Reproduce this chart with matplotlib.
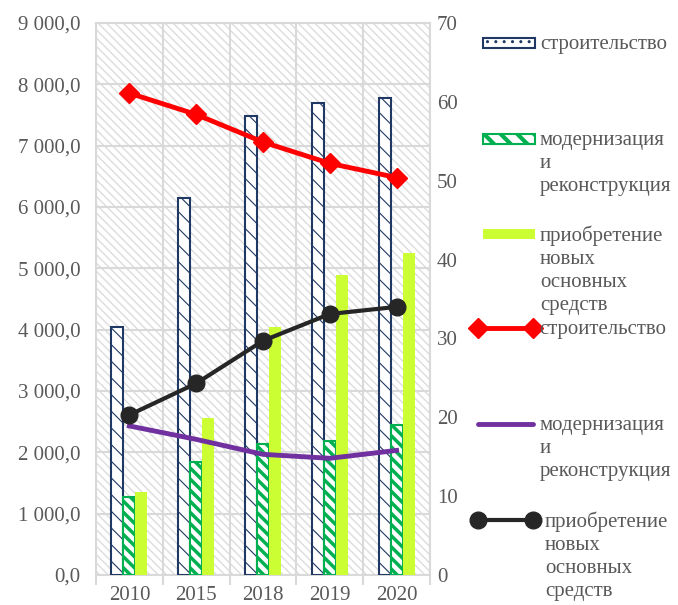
import numpy as np
import matplotlib
matplotlib.use('Agg')
import matplotlib.pyplot as plt
from matplotlib.patches import Rectangle
from matplotlib.lines import Line2D

years = ['2010', '2015', '2018', '2019', '2020']

# bars, left axis
bar_build = [4050, 6150, 7480, 7700, 7780]
bar_modern = [1270, 1840, 2140, 2180, 2440]
bar_new = [1360, 2560, 4040, 4890, 5250]

# lines, right axis
line_build = [61.1, 58.4, 54.9, 52.2, 50.4]
line_modern = [18.9, 17.2, 15.3, 14.8, 15.8]
line_new = [20.3, 24.3, 29.7, 33.1, 34.0]

lbl_build = 'строительство'
lbl_modern = 'модернизация\nи\nреконструкция'
lbl_new = 'приобретение\nновых\nосновных\nсредств'

plt.rcParams['font.family'] = ['Liberation Serif', 'DejaVu Serif']
txt = '#595959'
grid = '#d9d9d9'
navy = '#1f3864'
green = '#00b050'
lime = '#ccff33'
FS = 15


def hatch_lw(artists, lw):
    for a in artists:
        if hasattr(a, 'set_hatch_linewidth'):
            a.set_hatch_linewidth(lw)


plt.rcParams['hatch.linewidth'] = 1.0
fig = plt.figure(figsize=(6.78, 6.05), dpi=100)
ax = fig.add_axes([96 / 678, 30 / 605, 334 / 678, 552 / 605])
x = np.arange(len(years))
w = 0.18

# hatched plot area background
bg = Rectangle((0, 0), 1, 1, transform=ax.transAxes, facecolor='white',
               edgecolor='#dcdcdc', hatch='\\\\\\\\', lw=0, zorder=0)
ax.add_patch(bg)

b1 = ax.bar(x - w, bar_build, w, color='white', edgecolor=navy, hatch='\\\\',
            lw=1.5, zorder=3)
b2 = ax.bar(x, bar_modern, w, color='white', edgecolor=green, hatch='\\\\\\',
            lw=1.5, zorder=3)
ax.bar(x + w, bar_new, w, color=lime, edgecolor='none', zorder=3)
hatch_lw(b1, 0.8)
hatch_lw(b2, 2.5)

ax.set_xlim(-0.5, 4.5)
ax.set_ylim(0, 9000)
ax.set_yticks(np.arange(0, 9001, 1000))
ax.set_yticklabels([f'{v:,.1f}'.replace(',', ' ').replace('.', ',') for v in range(0, 9001, 1000)])
ax.set_xticks(np.arange(-0.5, 5, 1))
ax.set_xticklabels([])
ax.set_xticks(x, minor=True)
ax.set_xticklabels(years, minor=True)
ax.tick_params(axis='x', which='major', length=7, color=grid, width=1.5)
ax.tick_params(axis='x', which='minor', length=0, pad=8, labelsize=FS, labelcolor=txt)
ax.tick_params(axis='y', length=0, pad=11, labelsize=FS, labelcolor=txt)
ax.grid(True, which='major', color=grid, lw=1.5, zorder=1)
ax.set_axisbelow(True)
for s in ax.spines.values():
    s.set_color(grid)
    s.set_linewidth(1.5)

ax2 = ax.twinx()
ax2.set_ylim(0, 70)
ax2.set_yticks(np.arange(0, 71, 10))
ax2.tick_params(axis='y', length=0, pad=5, labelsize=FS, labelcolor=txt)
for s in ax2.spines.values():
    s.set_visible(False)
ax2.plot(x, line_build, color='#ff0000', lw=3.5, marker='D', ms=10, zorder=5)
ax2.plot(x, line_modern, color='#7030a0', lw=3.5, zorder=5)
ax2.plot(x, line_new, color='#262626', lw=3, marker='o', ms=12, zorder=5)

# legend drawn by hand so every entry keeps the same spacing
H, W = 605.0, 678.0


def fx(px):
    return px / W


def fy(py):
    return 1 - py / H


entries = [
    ('bar', dict(facecolor='white', edgecolor=navy, hatch='..'), lbl_build, 43, 540),
    ('bar', dict(facecolor='white', edgecolor=green, hatch='\\\\'), lbl_modern, 139, 540),
    ('bar', dict(facecolor=lime, edgecolor='none'), lbl_new, 234, 540),
    ('line', dict(color='#ff0000', lw=3.5, marker='D', ms=10), lbl_build, 328, 539),
    ('line', dict(color='#7030a0', lw=3.5, solid_capstyle='round'), lbl_modern, 424, 540),
    ('line', dict(color='#262626', lw=3, marker='o', ms=12), lbl_new, 520, 545),
]
for kind, style, label, py, tx in entries:
    if kind == 'bar':
        r = Rectangle((fx(483), fy(py + 5)), fx(52), 10 / H, transform=fig.transFigure,
                      lw=1.5, **style)
        fig.add_artist(r)
        if style['edgecolor'] == green:
            hatch_lw([r], 3.0)
    else:
        ln = Line2D([fx(478), fx(533)], [fy(py), fy(py)], transform=fig.transFigure,
                    **style)
        fig.add_artist(ln)
    fig.text(fx(tx), fy(py - 8), label, ha='left', va='top', fontsize=FS,
             color=txt, linespacing=1.28, transform=fig.transFigure)

fig.savefig('out.png', dpi=100)
